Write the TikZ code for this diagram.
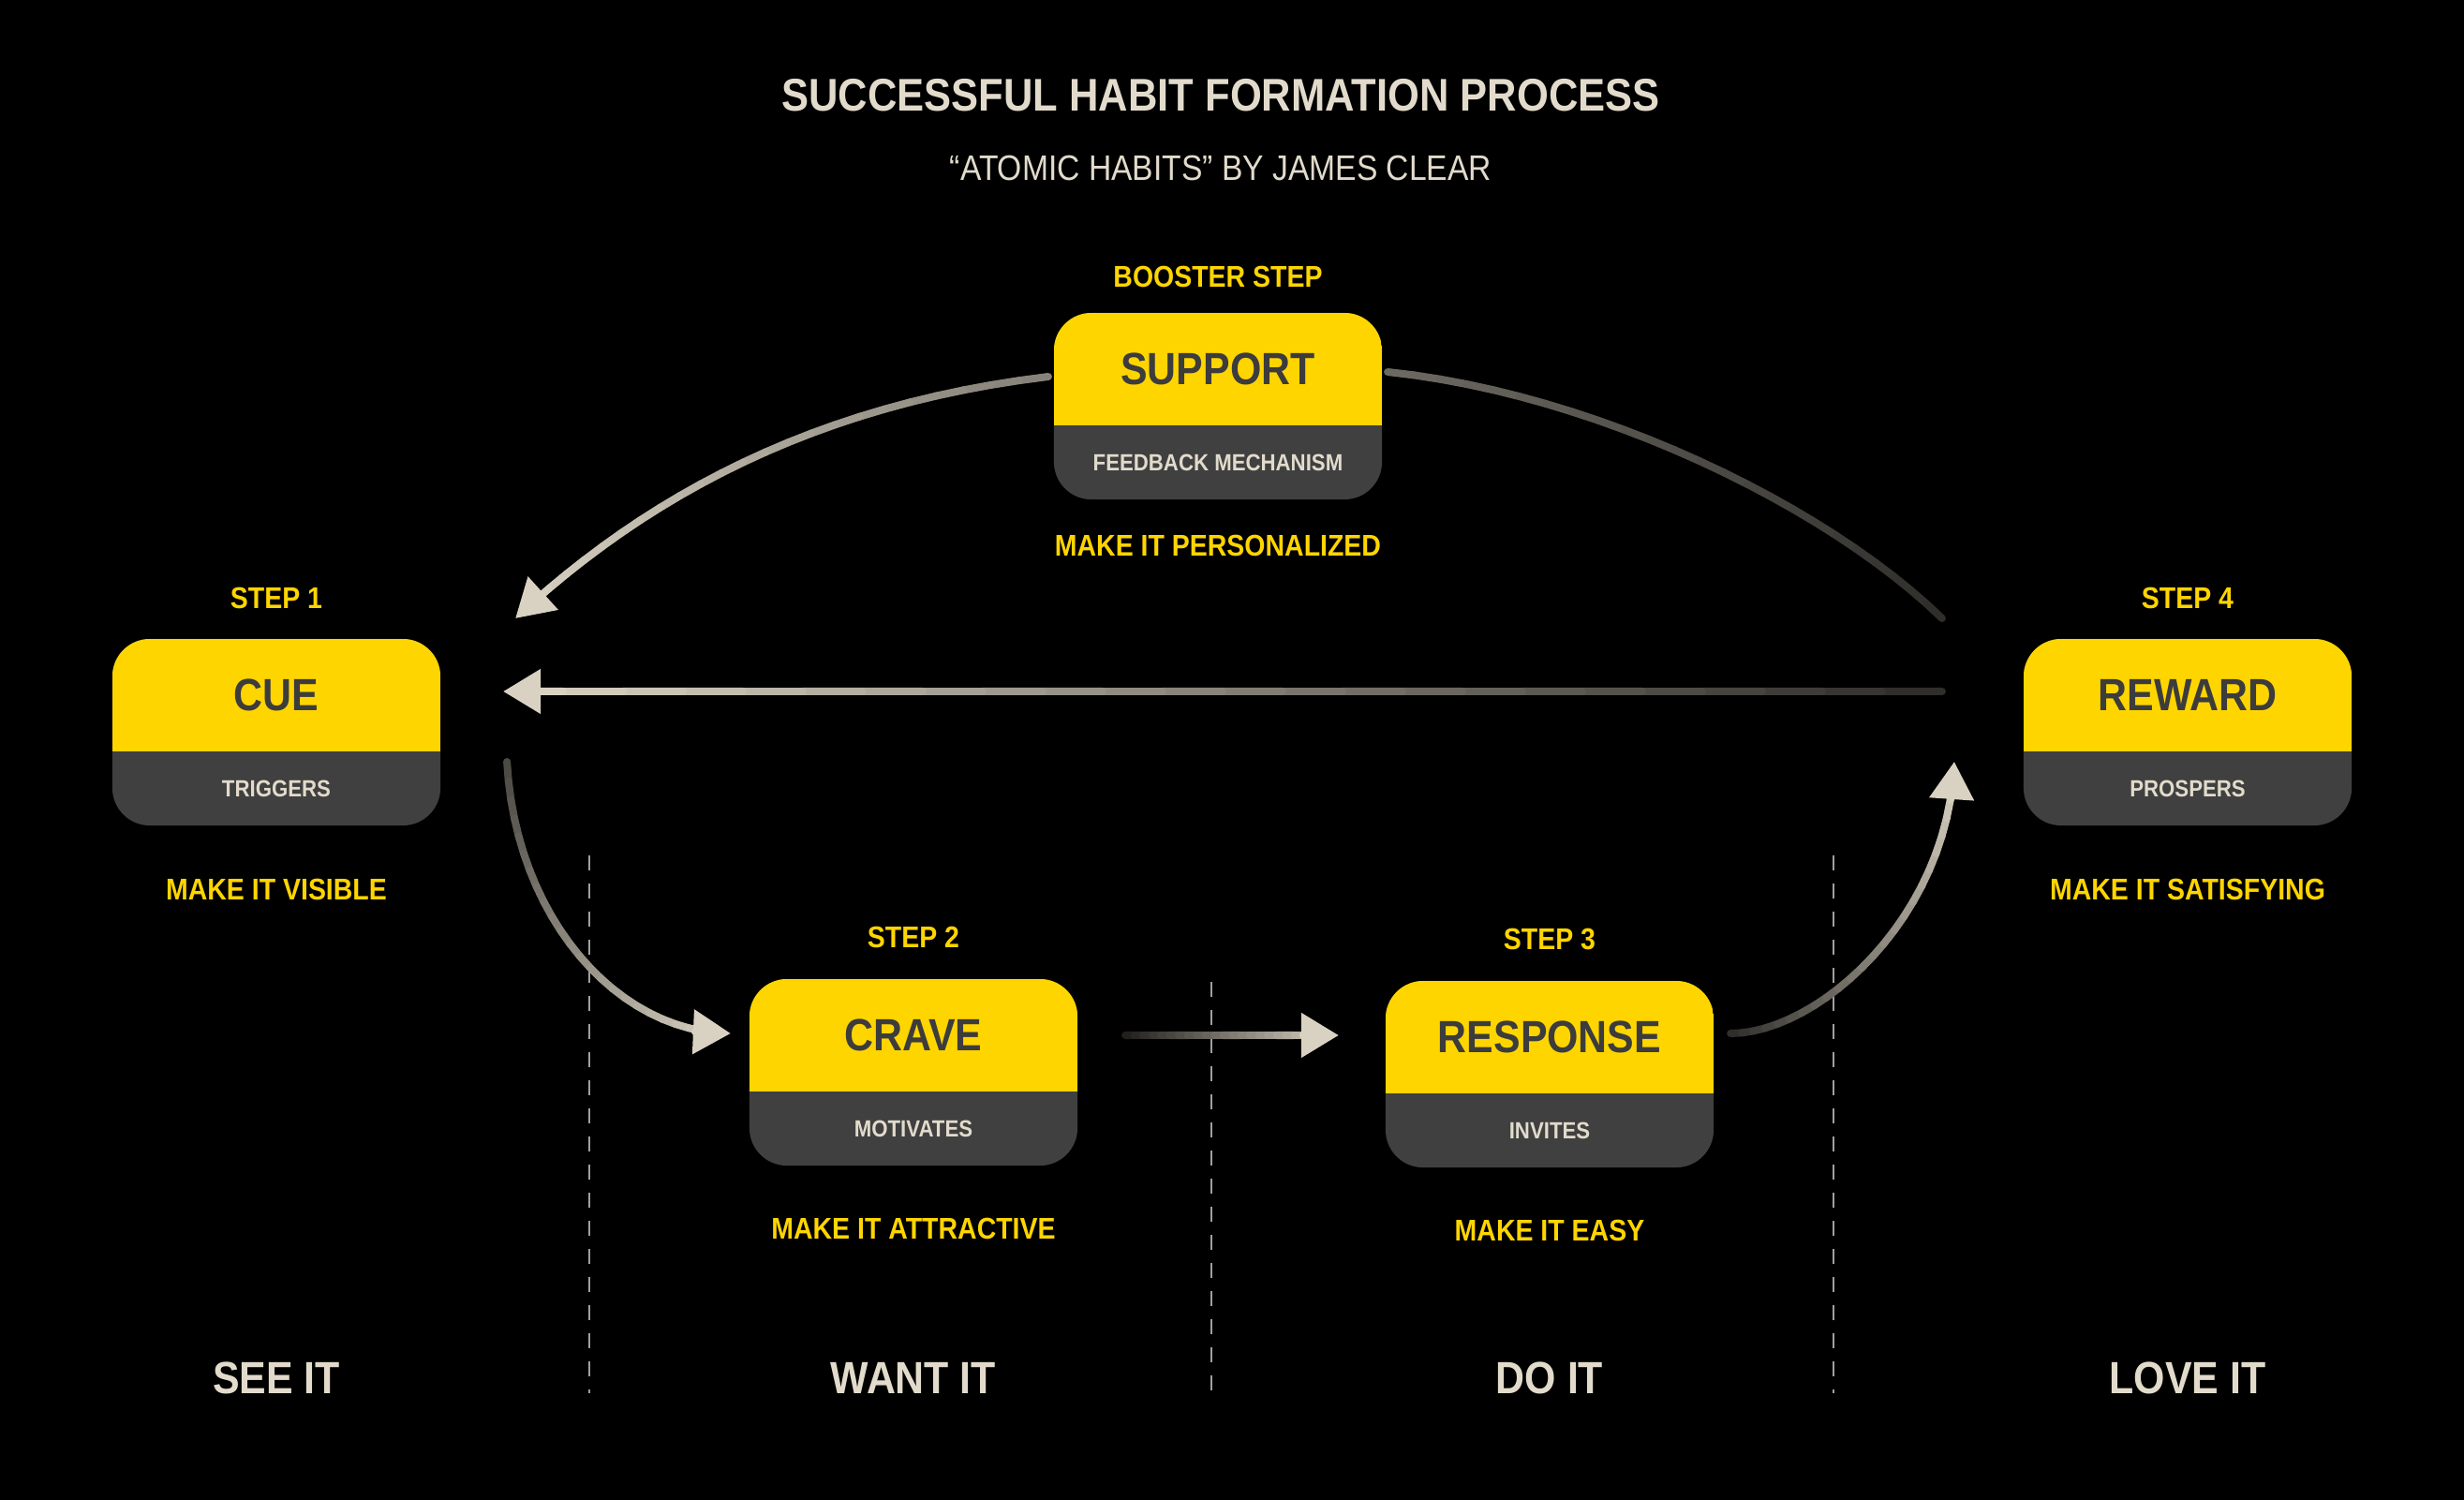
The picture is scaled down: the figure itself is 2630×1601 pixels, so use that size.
\documentclass[tikz,border=0pt]{standalone}
\usepackage{fontspec}
\setmainfont{Liberation Sans}[FakeStretch=0.89]
\usetikzlibrary{positioning,arrows.meta,calc,backgrounds}

\definecolor{hyellow}{HTML}{FFD500}
\definecolor{boxgray}{HTML}{404040}
\definecolor{darktext}{HTML}{3C3C3C}
\definecolor{paper}{HTML}{E2DBCC}
\definecolor{linebeige}{HTML}{D9D2C3}
\definecolor{dashgray}{HTML}{A0A0A0}

% connector that brightens along its length: start, control 1, control 2, end, start %, end %, tip
\newcommand{\fadepath}[7]{%
  \path #1 .. controls #2 and #3 .. #4
    \foreach \i [evaluate=\i as \ps using \i/24] in {0,...,24} {coordinate[pos=\ps] (f\i)};
  \foreach \i [evaluate=\i as \nx using int(\i+1),
               evaluate=\i as \pc using #5+(#6-#5)*\i/23] in {0,...,22}
    \draw[flowline, draw=linebeige!\pc!black] (f\i) -- (f\nx);
  \draw[flowline, #7, draw=linebeige!#6!black] (f23) -- (f24);
}

\begin{document}
\begin{tikzpicture}[x=0.01cm, y=-0.01cm]
    \tikzstyle{every node} = [inner sep=0pt, outer sep=0pt]
    \tikzstyle{headbox} = [minimum width=3.5cm, minimum height=1.2cm, text=darktext, font=\fontsize{13.7pt}{16pt}\selectfont\bfseries]
    \tikzstyle{subbox} = [minimum width=3.5cm, minimum height=0.79cm, text=paper, font=\fontsize{7.1pt}{9pt}\selectfont\bfseries]
    \tikzstyle{steptag} = [text=hyellow, font=\fontsize{9.1pt}{11pt}\selectfont\bfseries]
    \tikzstyle{stage} = [text=paper, font=\fontsize{13.7pt}{16pt}\selectfont\bfseries]
    \tikzstyle{flowline} = [line width=0.08cm, line cap=round]
    \tikzstyle{divider} = [draw=dashgray, line width=0.02cm, dash pattern=on 0.16cm off 0.14cm]
    \tikzstyle{tip} = [-{Triangle[length=0.4cm, width=0.46cm]}]

    % title
    \node[text=paper, font=\fontsize{13.9pt}{16pt}\selectfont\bfseries] (title) at (1303,102) {SUCCESSFUL HABIT FORMATION PROCESS};
    \node[text=paper, font=\fontsize{10.75pt}{13pt}\selectfont, below=0.47cm of title] (subtitle) {“ATOMIC HABITS” BY JAMES CLEAR};

    % booster step
    \node[headbox] (support) at (1300,394) {SUPPORT};
    \node[subbox, below=0pt of support] (support-sub) {FEEDBACK MECHANISM};
    \node[steptag, above=0.275cm of support] (booster) {BOOSTER STEP};
    \node[steptag, below=0.385cm of support-sub] (support-make) {MAKE IT PERSONALIZED};

    % the four steps
    \node[headbox] (cue) at (295,742) {CUE};
    \node[subbox, below=0pt of cue] (cue-sub) {TRIGGERS};
    \node[steptag, above=0.325cm of cue] (step1) {STEP 1};
    \node[steptag, below=0.57cm of cue-sub] (cue-make) {MAKE IT VISIBLE};

    \node[headbox] (crave) at (975,1105) {CRAVE};
    \node[subbox, below=0pt of crave] (crave-sub) {MOTIVATES};
    \node[steptag, above=0.33cm of crave] (step2) {STEP 2};
    \node[steptag, below=0.56cm of crave-sub] (crave-make) {MAKE IT ATTRACTIVE};

    \node[headbox] (response) at (1654,1107) {RESPONSE};
    \node[subbox, below=0pt of response] (response-sub) {INVITES};
    \node[steptag, above=0.33cm of response] (step3) {STEP 3};
    \node[steptag, below=0.56cm of response-sub] (response-make) {MAKE IT EASY};

    \node[headbox] (reward) at (2335,742) {REWARD};
    \node[subbox, below=0pt of reward] (reward-sub) {PROSPERS};
    \node[steptag, above=0.325cm of reward] (step4) {STEP 4};
    \node[steptag, below=0.57cm of reward-sub] (reward-make) {MAKE IT SATISFYING};

    % stages
    \coordinate (base) at (0,1471);
    \node[stage] (seeit) at (cue |- base) {SEE IT};
    \node[stage] (wantit) at (crave |- base) {WANT IT};
    \node[stage] (doit) at (response |- base) {DO IT};
    \node[stage] (loveit) at (reward |- base) {LOVE IT};

    \draw[divider] (629,913) -- (629,1487);
    \draw[divider] (1293,1048) -- (1293,1487);
    \draw[divider] (1957,913) -- (1957,1487);

    % box colours
    \begin{pgfonlayer}{background}
        \fill[black] (0,0) rectangle (2630,1601);
        \foreach \n in {support,cue,crave,response,reward} {
            \fill[boxgray, rounded corners=0.4cm] (\n.north west) rectangle (\n-sub.south east);
            \begin{scope}
                \clip[rounded corners=0.4cm] (\n.north west) rectangle (\n-sub.south east);
                \fill[hyellow] (\n.north west) rectangle (\n.south east);
            \end{scope}
        }
    \end{pgfonlayer}

    % connector ends
    \coordinate (supL) at ($(support.west)+(-6,8)$);
    \coordinate (supR) at ($(support.east)+(6,3)$);
    \coordinate (cueTop) at ($(cue.east)+(80,-82)$);
    \coordinate (cueIn) at ($(cue.east)+(67,-4)$);
    \coordinate (cueOut) at ($(cue.east)+(71,71)$);
    \coordinate (craveIn) at ($(crave.west)+(-20,-2)$);
    \coordinate (craveOut) at ($(crave.east)+(51,0)$);
    \coordinate (respIn) at ($(response.west)+(-50,-2)$);
    \coordinate (respOut) at ($(response.east)+(18,-4)$);
    \coordinate (rewIn) at ($(reward.west)+(-74,71)$);
    \coordinate (rewTop) at ($(reward.west)+(-87,-82)$);
    \coordinate (rewLine) at ($(reward.west)+(-87,-4)$);

    \fadepath{(supL)}{+(-250,30)}{+(140,-130)}{(cueTop)}{62}{100}{tip}
    \fadepath{(supR)}{+(222,23)}{+(-123,-120)}{(rewTop)}{50}{22}{-}
    \fadepath{(rewLine)}{+(-512,0)}{+(512,0)}{(cueIn)}{22}{100}{tip}
    \fadepath{(cueOut)}{+(9,167)}{+(-120,0)}{(craveIn)}{35}{100}{tip}
    \fadepath{(craveOut)}{+(76,0)}{+(-76,0)}{(respIn)}{15}{100}{tip}
    \fadepath{(respOut)}{+(93,0)}{+(-6,167)}{(rewIn)}{22}{100}{tip}

\end{tikzpicture}
\end{document}
